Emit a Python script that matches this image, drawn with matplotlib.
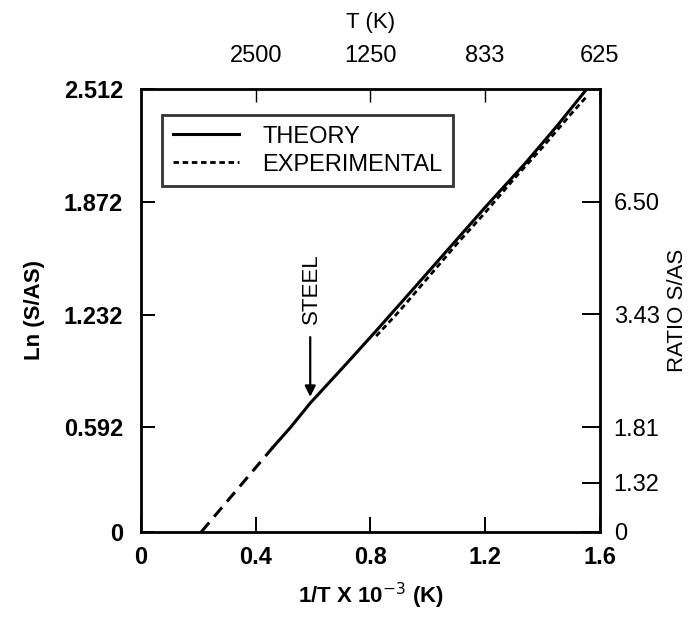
import numpy as np
import matplotlib.pyplot as plt

# data
theory_x = [0.46, 0.52, 0.59, 0.72, 0.82, 0.94, 1.07, 1.20, 1.34, 1.45, 1.555]
theory_y = [0.48, 0.59, 0.73, 0.96, 1.14, 1.36, 1.60, 1.84, 2.09, 2.30, 2.512]
extrap_x = [0.21, 0.46]
extrap_y = [0.0, 0.48]
exp_x = [0.82, 0.90, 1.00, 1.10, 1.20, 1.30, 1.40, 1.50, 1.555]
exp_y = [1.11, 1.25, 1.44, 1.63, 1.81, 2.00, 2.18, 2.37, 2.47]

x_ticks = [0, 0.4, 0.8, 1.2, 1.6]
x_labels = ["0", "0.4", "0.8", "1.2", "1.6"]
y_ticks = [0, 0.592, 1.232, 1.872, 2.512]
y_labels = ["0", "0.592", "1.232", "1.872", "2.512"]
temp_pos = [0.4, 0.8, 1.2, 1.6]
temp_labels = ["2500", "1250", "833", "625"]
ratio_vals = [1.32, 1.81, 3.43, 6.50]
ratio_labels = ["0", "1.32", "1.81", "3.43", "6.50"]

plt.rcParams['font.family'] = ['Liberation Sans', 'DejaVu Sans']
fs = 17

fig = plt.figure(figsize=(6.95, 6.17), dpi=100)
ax = fig.add_axes([0.203, 0.138, 0.660, 0.718])

ax.plot(theory_x, theory_y, color='black', lw=2.2, label='THEORY')
ax.plot(extrap_x, extrap_y, color='black', lw=2.2, dashes=(4, 2.5))
ax.plot(exp_x, exp_y, color='black', lw=2.0, dashes=(2, 1.3), label='EXPERIMENTAL')

ax.set_xlim(0, 1.6)
ax.set_ylim(0, 2.512)
ax.set_xticks(x_ticks)
ax.set_xticklabels(x_labels, fontweight='bold', fontsize=fs)
ax.set_yticks(y_ticks)
ax.set_yticklabels(y_labels, fontweight='bold', fontsize=fs)
ax.tick_params(axis='x', direction='in', length=11, width=1.4, pad=10)
ax.tick_params(axis='y', direction='in', length=10, width=1.4, pad=13)
ax.set_xlabel("1/T X 10$^{-3}$ (K)", fontweight='bold', fontsize=16, labelpad=9)
ax.set_ylabel("Ln (S/AS)", fontweight='bold', fontsize=16, labelpad=13)
for s in ax.spines.values():
    s.set_linewidth(2.0)

# top axis: temperature
top = ax.twiny()
top.set_xlim(ax.get_xlim())
top.set_xticks(temp_pos)
top.set_xticklabels(temp_labels, fontsize=fs)
top.tick_params(direction='in', length=9, width=1.0, pad=16)
top.set_xlabel("T (K)", fontsize=16, labelpad=12)

# right axis: ratio
right = ax.twinx()
right.set_ylim(ax.get_ylim())
right.set_yticks([0] + list(np.log(ratio_vals)))
right.set_yticklabels(ratio_labels, fontsize=fs)
right.tick_params(direction='in', length=13, width=1.4, pad=10)
right.set_ylabel("RATIO S/AS", fontsize=16, labelpad=5)

# steel marker
ax.annotate("", xy=(0.59, 0.75), xytext=(0.59, 1.12),
            arrowprops=dict(arrowstyle='-|>', color='black', lw=1.6, mutation_scale=16))
ax.text(0.596, 1.38, "STEEL", rotation=90, ha='center', va='center', fontsize=16)

leg = ax.legend(loc='upper left', bbox_to_anchor=(0.046, 0.941), fontsize=fs,
                frameon=True, fancybox=False, edgecolor='black', handlelength=2.8,
                borderpad=0.45, labelspacing=0.25, handletextpad=1.0, borderaxespad=0)
leg.get_frame().set_linewidth(2.0)

fig.savefig("out.png", dpi=100)
